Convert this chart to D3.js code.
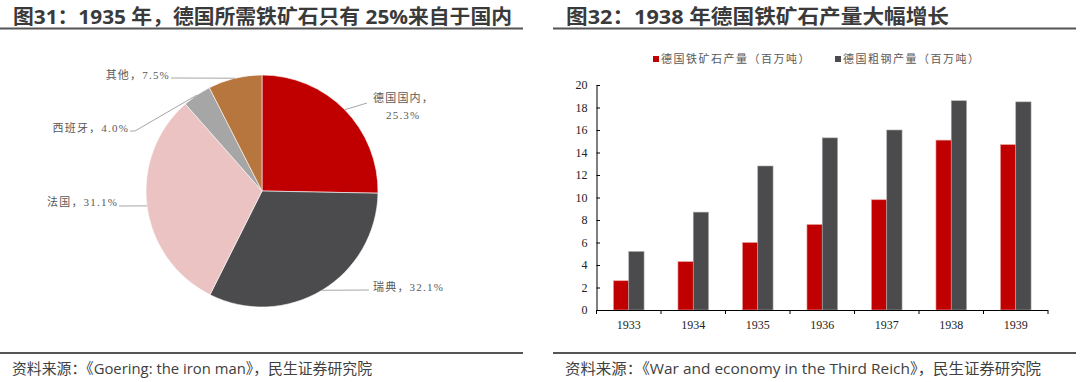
<!DOCTYPE html>
<html><head><meta charset="utf-8">
<script src="https://cdn.jsdelivr.net/npm/d3@7/dist/d3.min.js"></script>
<style>
html,body{margin:0;padding:0;background:#fff;}
svg{display:block;}
</style></head>
<body>
<svg id="chart" width="1080" height="382"></svg>
<script>
// ---------- data ----------
const pieLabels = ["德国国内", "瑞典", "法国", "西班牙", "其他"];
const pieValues = [25.3, 32.1, 31.1, 4.0, 7.5];
const pieColors = ["#C00000", "#4B4B4D", "#EBC3C3", "#A6A6A6", "#B8763F"];

const years = ["1933", "1934", "1935", "1936", "1937", "1938", "1939"];
const oreOutput = [2.6, 4.3, 6.0, 7.6, 9.8, 15.1, 14.7];
const steelOutput = [5.2, 8.7, 12.8, 15.3, 16.0, 18.6, 18.5];
const seriesNames = ["德国铁矿石产量（百万吨）", "德国粗钢产量（百万吨）"];
const seriesColors = ["#C00000", "#4B4B4D"];
const yTicks = [0, 2, 4, 6, 8, 10, 12, 14, 16, 18, 20];

const titleLeft = "图31：1935 年，德国所需铁矿石只有 25%来自于国内";
const titleRight = "图32：1938 年德国铁矿石产量大幅增长";
const sourceLeft = "资料来源：《Goering: the iron man》，民生证券研究院";
const sourceRight = "资料来源：《War and economy in the Third Reich》，民生证券研究院";

(function () {
const svg = d3.select("#chart");
const titleFont = "'Open Sans','Noto Sans CJK SC',sans-serif";
const labelFont = "'Liberation Serif','Noto Sans CJK SC',serif";

function frame(xa, xb, title, source, titleW, srcW) {
  svg.append("text").attr("x", xa + 13).attr("y", 24)
    .attr("font-family", titleFont).attr("font-weight", 700)
    .attr("font-size", 20).attr("fill", "#3A3A3A")
    .attr("textLength", titleW).attr("lengthAdjust", "spacingAndGlyphs").text(title);
  svg.append("line").attr("x1", xa).attr("x2", xb).attr("y1", 28.5).attr("y2", 28.5)
    .attr("stroke", "#555").attr("stroke-width", 2);
  svg.append("line").attr("x1", xa).attr("x2", xb).attr("y1", 353).attr("y2", 353)
    .attr("stroke", "#555").attr("stroke-width", 2);
  svg.append("text").attr("x", xa + 12).attr("y", 374)
    .attr("font-family", titleFont).attr("font-size", 15)
    .attr("textLength", srcW).attr("lengthAdjust", "spacingAndGlyphs")
    .attr("fill", "#404040").text(source);
}
frame(0, 523, titleLeft, sourceLeft, 499, 360);
frame(553, 1076, titleRight, sourceRight, 383, 476);

// ---------- pie ----------
const cx = 262, cy = 191, R = 116;
const pie = d3.pie().sort(null).value(d => d)(pieValues);
const arc = d3.arc().innerRadius(0).outerRadius(R);
const gPie = svg.append("g").attr("transform", `translate(${cx},${cy})`);
gPie.selectAll("path").data(pie).join("path")
  .attr("d", arc).attr("fill", (d, i) => pieColors[i])
  .attr("stroke", "#fff").attr("stroke-width", 0.6);

const labelLayout = [
  {bend: null, end: [367, 103], lines: ["德国国内，", "25.3%"], tx: [373, 386], ty: [102, 119], anchor: "start"},
  {bend: null, end: [369, 290], lines: ["瑞典，32.1%"], tx: [373], ty: [291], anchor: "start"},
  {bend: null, end: [119, 206], lines: ["法国，31.1%"], tx: [118], ty: [206], anchor: "end"},
  {bend: [135, 131], end: [130, 131], lines: ["西班牙，4.0%"], tx: [129], ty: [132], anchor: "end"},
  {bend: null, end: [171, 78], lines: ["其他，7.5%"], tx: [170], ty: [79], anchor: "end"}
];
pie.forEach((d, i) => {
  const a = (d.startAngle + d.endAngle) / 2;
  const px = cx + Math.sin(a) * R, py = cy - Math.cos(a) * R;
  const L = labelLayout[i];
  const pts = [[px, py]];
  if (L.bend) pts.push(L.bend);
  pts.push(L.end);
  svg.append("path").attr("d", d3.line()(pts))
    .attr("fill", "none").attr("stroke", "#A6A6A6").attr("stroke-width", 1);
  L.lines.forEach((t, k) => {
    svg.append("text").attr("x", L.tx[k]).attr("y", L.ty[k])
      .attr("text-anchor", L.anchor)
      .attr("font-family", labelFont).attr("font-size", 11)
      .attr("letter-spacing", 1.2)
      .attr("fill", "#595959").text(t);
  });
});

// ---------- bars ----------
const pLeft = 596.5, pRight = 1048, pTop = 85, pBottom = 310;
const x0 = d3.scaleBand().domain(years).range([pLeft, pRight]).padding(0);
const barW = 15.3;
const x1 = d3.scaleBand().domain([0, 1]).range([0, barW * 2]).padding(0);
const y = d3.scaleLinear().domain([0, 20]).range([pBottom, pTop]);

const gBars = svg.append("g");
const series = [oreOutput, steelOutput];
years.forEach((yr, i) => {
  const off = x0(yr) + x0.bandwidth() / 2 - barW;
  series.forEach((s, k) => {
    gBars.append("rect")
      .attr("x", off + x1(k)).attr("width", x1.bandwidth())
      .attr("y", y(s[i])).attr("height", y(0) - y(s[i]))
      .attr("fill", seriesColors[k])
      .attr("stroke", k === 0 ? "#E8A0A0" : "#A8A8A8").attr("stroke-width", 0.6);
  });
});

const yAxis = d3.axisLeft(y).tickValues(yTicks).tickSizeInner(-3.5).tickSizeOuter(0).tickPadding(9);
const gy = svg.append("g").attr("transform", `translate(${pLeft},0)`).call(yAxis);
gy.select(".domain").attr("stroke", "#000");
gy.selectAll(".tick line").attr("stroke", "#000");
gy.selectAll("text").attr("font-family", "'Liberation Serif',serif").attr("font-size", 12).attr("fill", "#222");

const gx = svg.append("g").attr("transform", `translate(0,${pBottom})`);
gx.append("line").attr("x1", pLeft).attr("x2", pRight).attr("y1", 0.5).attr("y2", 0.5).attr("stroke", "#000");
const bounds = years.map(yr => x0(yr)).concat([pRight]);
gx.selectAll("line.tk").data(bounds).join("line").attr("class", "tk")
  .attr("x1", d => d).attr("x2", d => d).attr("y1", 0).attr("y2", 4).attr("stroke", "#000");
gx.selectAll("text").data(years).join("text")
  .attr("x", d => x0(d) + x0.bandwidth() / 2).attr("y", 19)
  .attr("text-anchor", "middle")
  .attr("font-family", "'Liberation Serif',serif").attr("font-size", 12).attr("fill", "#222")
  .text(d => d);

const legendX = [653, 835];
seriesNames.forEach((n, k) => {
  svg.append("rect").attr("x", legendX[k]).attr("y", 56).attr("width", 6).attr("height", 6)
    .attr("fill", seriesColors[k]);
  svg.append("text").attr("x", legendX[k] + 8).attr("y", 63)
    .attr("font-family", labelFont).attr("font-size", 11).attr("letter-spacing", 1.5)
    .attr("fill", "#595959").text(n);
});
})();
</script>
</body></html>
